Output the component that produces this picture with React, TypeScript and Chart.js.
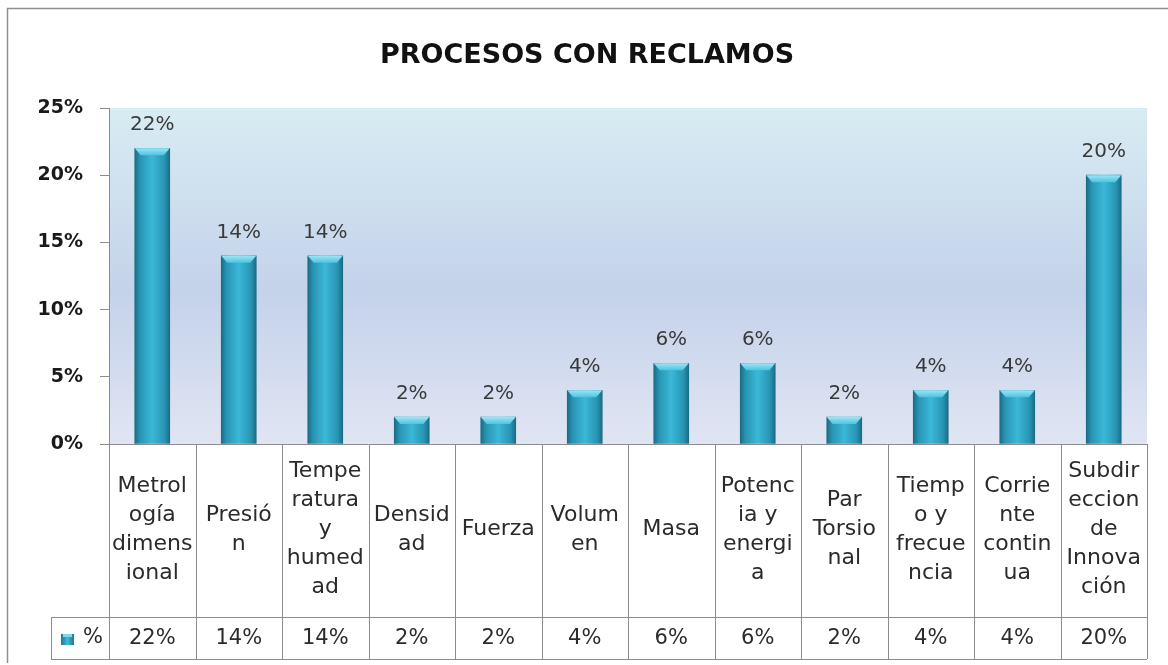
import React, { useEffect, useRef } from 'react';
import { Chart, registerables } from 'chart.js';

Chart.register(...registerables);

const TITLE = 'PROCESOS CON RECLAMOS';
const SERIES_NAME = '%';
const categories: string[][] = [
  ['Metrol', 'ogía', 'dimens', 'ional'],
  ['Presió', 'n'],
  ['Tempe', 'ratura', 'y', 'humed', 'ad'],
  ['Densid', 'ad'],
  ['Fuerza'],
  ['Volum', 'en'],
  ['Masa'],
  ['Potenc', 'ia y', 'energi', 'a'],
  ['Par', 'Torsio', 'nal'],
  ['Tiemp', 'o y', 'frecue', 'ncia'],
  ['Corrie', 'nte', 'contin', 'ua'],
  ['Subdir', 'eccion', 'de', 'Innova', 'ción'],
];
const values: number[] = [22, 14, 14, 2, 2, 4, 6, 6, 2, 4, 4, 20];
const yTicks: number[] = [0, 5, 10, 15, 20, 25];

const FONT = "'DejaVu Sans', sans-serif";
const LINE = '#8c8c8c';
const BAR_W = 35;

function barGradient(ctx: CanvasRenderingContext2D, x0: number, x1: number) {
  const g = ctx.createLinearGradient(x0, 0, x1, 0);
  g.addColorStop(0, '#1b6c84');
  g.addColorStop(0.15, '#2894b3');
  g.addColorStop(0.5, '#3bb8d8');
  g.addColorStop(0.85, '#2894b3');
  g.addColorStop(1, '#1b6c84');
  return g;
}

const framePlugin = {
  id: 'frameBg',
  beforeDraw(chart: any) {
    const { ctx, chartArea: a } = chart;
    ctx.save();
    ctx.fillStyle = '#ffffff';
    ctx.fillRect(0, 0, chart.width, chart.height);
    ctx.strokeStyle = '#8f8f8f';
    ctx.lineWidth = 1.5;
    ctx.beginPath();
    ctx.moveTo(7.5, 663);
    ctx.lineTo(7.5, 8.5);
    ctx.lineTo(chart.width, 8.5);
    ctx.stroke();
    const g = ctx.createLinearGradient(0, a.top, 0, a.bottom);
    g.addColorStop(0, '#d8ecf3');
    g.addColorStop(0.55, '#c4d2ea');
    g.addColorStop(1, '#e0e5f3');
    ctx.fillStyle = g;
    ctx.fillRect(a.left, a.top, a.right - a.left, a.bottom - a.top);
    ctx.fillStyle = '#111111';
    ctx.font = `bold 27px ${FONT}`;
    ctx.textAlign = 'center';
    ctx.textBaseline = 'alphabetic';
    ctx.fillText(TITLE, 587, 63);
    ctx.restore();
  },
};

const barDecorPlugin = {
  id: 'barDecor',
  afterDatasetsDraw(chart: any) {
    const { ctx } = chart;
    const meta = chart.getDatasetMeta(0);
    ctx.save();
    meta.data.forEach((el: any, i: number) => {
      const { x, y, width } = el.getProps(['x', 'y', 'width'], true);
      if (![x, y, width].every((v: number) => Number.isFinite(v))) return;
      const l = x - width / 2;
      const r = x + width / 2;
      const bh = 7;
      const g = ctx.createLinearGradient(0, y, 0, y + bh);
      g.addColorStop(0, '#9be6f5');
      g.addColorStop(1, '#4cc3e0');
      ctx.fillStyle = g;
      ctx.beginPath();
      ctx.moveTo(l, y);
      ctx.lineTo(r, y);
      ctx.lineTo(r - 6, y + bh);
      ctx.lineTo(l + 6, y + bh);
      ctx.closePath();
      ctx.fill();
      ctx.fillStyle = '#3a3a3a';
      ctx.font = `20px ${FONT}`;
      ctx.textAlign = 'center';
      ctx.textBaseline = 'alphabetic';
      ctx.fillText(`${values[i]}%`, x, y - 18);
    });
    ctx.restore();
  },
};

const tablePlugin = {
  id: 'dataTable',
  afterDraw(chart: any) {
    const { ctx, chartArea: a } = chart;
    const xs = chart.scales.x;
    const n = values.length;
    const colW = (a.right - a.left) / n;
    const top = a.bottom;
    const mid = top + 173;
    const bot = mid + 42;
    const legendLeft = 51;
    const px = (v: number) => Math.round(v) + 0.5;
    ctx.save();
    ctx.strokeStyle = LINE;
    ctx.lineWidth = 1;
    ctx.beginPath();
    ctx.moveTo(a.left, px(top));
    ctx.lineTo(a.right, px(top));
    ctx.moveTo(legendLeft, px(mid));
    ctx.lineTo(a.right, px(mid));
    ctx.moveTo(legendLeft, px(bot));
    ctx.lineTo(a.right, px(bot));
    for (let k = 0; k <= n; k++) {
      const x = px(a.left + k * colW);
      ctx.moveTo(x, top);
      ctx.lineTo(x, bot);
    }
    ctx.moveTo(px(legendLeft), mid);
    ctx.lineTo(px(legendLeft), bot);
    ctx.stroke();

    ctx.fillStyle = '#2b2b2b';
    ctx.font = `22px ${FONT}`;
    ctx.textAlign = 'center';
    ctx.textBaseline = 'middle';
    const lh = 29;
    const cy = (top + mid) / 2 - 1;
    categories.forEach((lines, i) => {
      const cx = xs.getPixelForValue(i);
      const start = cy - ((lines.length - 1) * lh) / 2;
      lines.forEach((t, j) => ctx.fillText(t, cx, start + j * lh));
    });
    ctx.font = `21px ${FONT}`;
    values.forEach((v, i) => {
      ctx.fillText(`${v}%`, xs.getPixelForValue(i), (mid + bot) / 2 + 1);
    });
    const sx = 61, sy = 634, sw = 13, sh = 11;
    const g = ctx.createLinearGradient(sx, 0, sx + sw, 0);
    g.addColorStop(0, '#1f7890');
    g.addColorStop(0.5, '#3cbad9');
    g.addColorStop(1, '#1f7890');
    ctx.fillStyle = g;
    ctx.fillRect(sx, sy, sw, sh);
    ctx.fillStyle = '#7fd7ee';
    ctx.fillRect(sx + 2, sy, sw - 4, 3);
    ctx.fillStyle = '#2b2b2b';
    ctx.fillText(SERIES_NAME, 93, (mid + bot) / 2);
    ctx.restore();
  },
};

export default function App() {
  const ref = useRef<HTMLCanvasElement | null>(null);
  useEffect(() => {
    if (!ref.current) return;
    Chart.defaults.font.family = FONT;
    const chart = new Chart(ref.current, {
      type: 'bar',
      data: {
        labels: categories.map((l) => l.join(' ')),
        datasets: [
          {
            label: SERIES_NAME,
            data: values,
            barThickness: BAR_W,
            borderWidth: 0,
            backgroundColor: (c: any) => {
              const ch = c.chart;
              const xs = ch.scales && ch.scales.x;
              if (!xs || c.dataIndex === undefined) return '#2fa5c5';
              const cx = xs.getPixelForValue(c.dataIndex);
              if (!Number.isFinite(cx)) return '#2fa5c5';
              return barGradient(ch.ctx, cx - BAR_W / 2, cx + BAR_W / 2);
            },
          },
        ],
      },
      options: {
        responsive: false,
        animation: false,
        events: [],
        layout: { padding: { top: 108, right: 21, bottom: 221, left: 0 } },
        plugins: {
          legend: { display: false },
          title: { display: false },
          tooltip: { enabled: false },
        },
        scales: {
          x: {
            display: false,
            offset: true,
          },
          y: {
            min: yTicks[0],
            max: yTicks[yTicks.length - 1],
            afterFit: (s: any) => {
              s.width = 109;
            },
            ticks: {
              stepSize: yTicks[1] - yTicks[0],
              padding: 17,
              color: '#1a1a1a',
              font: { family: FONT, size: 19, weight: 'bold' },
              callback: (v: any) => `${v}%`,
            },
            grid: {
              drawOnChartArea: false,
              drawTicks: true,
              tickLength: 9,
              tickColor: LINE,
            },
            border: { display: true, color: LINE, width: 1 },
          },
        },
      },
      plugins: [framePlugin, barDecorPlugin, tablePlugin],
    });
    return () => chart.destroy();
  }, []);
  return (
    <div style={{ position: 'absolute', left: 0, top: 0, width: 1168, height: 665 }}>
      <canvas ref={ref} width={1168} height={665} />
    </div>
  );
}
